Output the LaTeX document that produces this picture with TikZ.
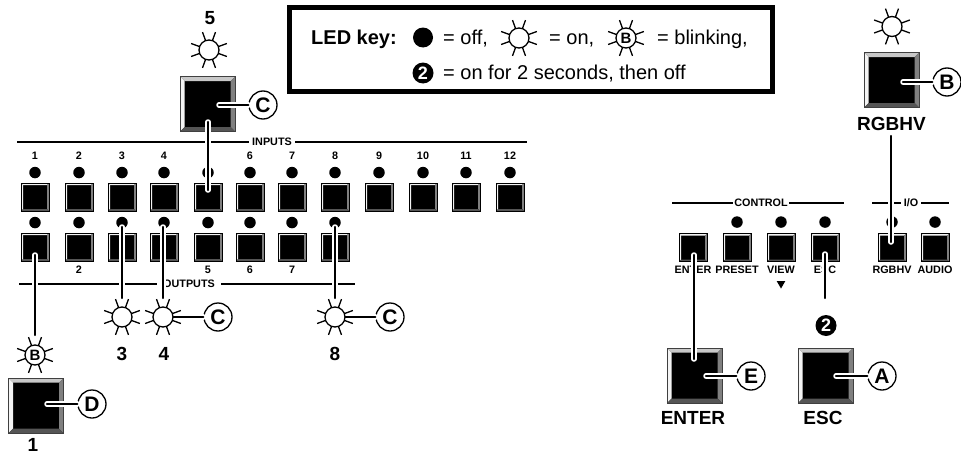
\documentclass[tikz,border=0pt]{standalone}
\usepackage{fontspec}
\setmainfont{Liberation Sans}
\usetikzlibrary{positioning,shapes.geometric}
\definecolor{bevlight}{HTML}{F4F4F4}
\definecolor{bevtop}{HTML}{C8C8C8}
\definecolor{bevright}{HTML}{808080}
\definecolor{bevbottom}{HTML}{555555}
\newcommand{\fsmall}{\fontsize{10.8}{12}\selectfont\bfseries}
\newcommand{\fbig}{\fontsize{19}{20}\selectfont\bfseries}
\newcommand{\fkey}{\fontsize{20}{22}\selectfont}
\newcommand{\bevelfaces}[2]{%
\fill[bevlight] (path picture bounding box.north west)--(path picture bounding box.south west)--([shift={(#1pt,#1pt)}]path picture bounding box.south west)--([shift={(#1pt,-#1pt)}]path picture bounding box.north west)--cycle;
\fill[#2] (path picture bounding box.north west)--(path picture bounding box.north east)--([shift={(-#1pt,-#1pt)}]path picture bounding box.north east)--([shift={(#1pt,-#1pt)}]path picture bounding box.north west)--cycle;
\fill[bevright] (path picture bounding box.north east)--(path picture bounding box.south east)--([shift={(-#1pt,#1pt)}]path picture bounding box.south east)--([shift={(-#1pt,-#1pt)}]path picture bounding box.north east)--cycle;
\fill[bevbottom] (path picture bounding box.south west)--(path picture bounding box.south east)--([shift={(-#1pt,#1pt)}]path picture bounding box.south east)--([shift={(#1pt,#1pt)}]path picture bounding box.south west)--cycle;}
\newcommand{\sunrays}[1]{\foreach \a in {20,70,110,160,200,250,290,340} \draw[line width=1.3pt] (#1.center)+(\a:10)--+(\a:19);}

\begin{document}
\begin{tikzpicture}[x=1pt,y=-1pt,
btn/.style={draw=black,line width=1pt,fill=black,minimum size=28pt,inner sep=0pt,path picture={\bevelfaces{2}{bevlight}}},
bigbtn/.style={draw=black!75,line width=.8pt,fill=black,minimum size=55pt,inner sep=0pt,path picture={\bevelfaces{4.5}{bevtop}}},
led/.style={circle,fill=black,minimum size=11.5pt,inner sep=0pt},
sun/.style={circle,draw,line width=1.3pt,fill=white,minimum size=20pt,inner sep=0pt},
blink/.style={sun,font=\fontsize{15}{15}\selectfont\bfseries},
lab/.style={inner sep=0pt,font=\fsmall},
biglab/.style={inner sep=0pt,font=\fbig},
hdr/.style={fill=white,inner sep=0pt,inner xsep=3pt,minimum height=8pt,font=\fsmall},
rule/.style={line width=1.6pt},
badge/.style={circle,fill=black,text=white,minimum size=21pt,inner sep=0pt,font=\fontsize{18}{18}\selectfont\bfseries},
lett/.style={circle,draw,line width=1.3pt,fill=white,minimum size=28pt,inner sep=0pt,font=\fontsize{21}{21}\selectfont\bfseries},
lead/.style={line width=2.2pt,line cap=round,preaction={draw,white,line width=5.5pt,line cap=round}},
key/.style={inner sep=0pt,anchor=base west,font=\fkey}]
\useasboundingbox (0,0) rectangle (961,455);
% section rules
\coordinate (inL) at (17,142);\coordinate (inR) at (527,142);
\coordinate (outL) at (19,284);\coordinate (outR) at (355,284);
\coordinate (ctlL) at (672,203);\coordinate (ctlR) at (844,203);
\coordinate (ioL) at (872,203);\coordinate (ioR) at (949,203);
\node[hdr] (inputs) at (272,142) {INPUTS};
\node[hdr,inner xsep=6pt] (outputs) at (189,284) {OUTPUTS};
\node[hdr,inner xsep=1pt] (control) at (761,203) {CONTROL};
\node[hdr] (io) at (911,203) {I/O};
\draw[rule] (inL)--(inputs)--(inR);
\draw[rule] (outL)--(outputs)--(outR);
\draw[rule] (ctlL)--(control)--(ctlR);
\draw[rule] (ioL)--(io)--(ioR);
% input buttons
\foreach \i/\x in {1/35,2/79,3/122,4/164,5/208,6/250,7/292,8/335,9/379,10/423,11/466,12/510}{
\node[btn] (in\i) at (\x,197) {};
\node[led,above=4pt of in\i] (inled\i) {};
}
\foreach \i in {1,2,3,4,6,7,8,9,10,11,12}
\node[lab,above=6.5pt of inled\i] (innum\i) {\i};
% output buttons
\foreach \i/\x in {1/35,2/79,3/122,4/164,5/208,6/250,7/292,8/335}{
\node[btn] (out\i) at (\x,247) {};
\node[led,above=4pt of out\i] (outled\i) {};
}
\foreach \i in {2,5,6,7}
\node[lab,below=4pt of out\i] (outnum\i) {\i};
% control and i/o buttons
\foreach \n/\x/\t in {enter/693/ENTER,preset/737/PRESET,view/781/VIEW,esc/825/ESC,rgb/892/RGBHV,audio/935/AUDIO}{
\node[btn] (\n) at (\x,247.5) {};
\node[lab,below=4pt of \n] (\n lab) {\t};
}
\foreach \n in {preset,view,esc,rgb,audio}
\node[led,above=5pt of \n] (\n led) {};
\node[regular polygon,regular polygon sides=3,shape border rotate=180,fill=black,minimum size=10pt,inner sep=0pt,below=7pt of viewlab] (viewtri) {};
% big buttons
\node[bigbtn] (big5) at (207.5,104) {};
\node[bigbtn] (big1) at (36,405.5) {};
\node[bigbtn] (bigrgb) at (891.5,80) {};
\node[bigbtn] (bigenter) at (694.5,375.5) {};
\node[bigbtn] (bigesc) at (825.5,375.5) {};
\node[biglab] (t5) at (210,18) {5};
\node[biglab] (t1) at (33,445) {1};
\node[biglab] (t3) at (122,354) {3};
\node[biglab] (t4) at (164,354) {4};
\node[biglab] (t8) at (335,354) {8};
\node[biglab,below=9pt of bigrgb] (trgb) {RGBHV};
\node[biglab] (tenter) at (693,418) {ENTER};
\node[biglab] (tesc) at (823,418) {ESC};
\node[badge] (two) at (826,325.5) {2};
% LEDs that are lit
\coordinate (s5) at (209,50);\coordinate (s3) at (122,317);\coordinate (s4) at (163,317);
\coordinate (s8) at (335,317);\coordinate (srgb) at (892,26.5);\coordinate (b1) at (35,355);
% letter tags
\coordinate (p5a) at (208,122);\coordinate (p5b) at (208,190);
\coordinate (p5c) at (219,105);\coordinate (p1a) at (35,255);\coordinate (p1b) at (35,335);
\coordinate (p1c) at (47,404);
\coordinate (p3a) at (122,227);\coordinate (p3b) at (122,298);
\coordinate (p4a) at (163,227);\coordinate (p4b) at (163,298);
\coordinate (p8a) at (335,227);\coordinate (p8b) at (335,298);
\coordinate (prgba) at (891,136);\coordinate (prgbb) at (891,242);\coordinate (prgbc) at (903,82);
\coordinate (pena) at (694,255);\coordinate (penb) at (694,359);\coordinate (penc) at (706,376);
\coordinate (pesa) at (825,254);\coordinate (pesb) at (825,298);\coordinate (pesc) at (836,376);
\node[lett] (c5) at (263,105) {C};
\node[lett] (d1) at (92,404) {D};
\node[lett] (c4) at (218,317) {C};
\node[lett] (c8) at (390,317) {C};
\node[lett] (brgb) at (947,82) {B};
\node[lett] (eent) at (751,376) {E};
\node[lett] (aesc) at (882,376) {A};
% leaders
\draw[lead] (p5a)--(p5b);
\draw[lead] (p5c)--(c5);
\draw[lead] (p1a)--(p1b);
\draw[lead] (p1c)--(d1);
\draw[lead] (p3a)--(p3b);
\draw[lead] (p4a)--(p4b);
\draw[lead] (p8a)--(p8b);
\draw[lead] (s4)--(c4);
\draw[lead] (s8)--(c8);
\draw[lead] (prgba)--(prgbb);
\draw[lead] (prgbc)--(brgb);
\draw[lead] (pena)--(penb);
\draw[lead] (penc)--(eent);
\draw[lead] (pesa)--(pesb);
\draw[lead] (pesc)--(aesc);
\foreach \n/\p in {sn5/s5,sn3/s3,sn4/s4,sn8/s8,snrgb/srgb}{
\node[sun] (\n) at (\p) {};
\sunrays{\n}
}
\node[blink] (bk1) at (b1) {B};
\sunrays{bk1}
% key
\node[draw,line width=5pt,minimum width=483pt,minimum height=84pt,inner sep=0pt] (keybox) at (531,49.5) {};
\node[key,font=\fkey\bfseries] (keyt) at (311,44) {LED key:};
\node[circle,fill=black,minimum size=20pt,inner sep=0pt] (koff) at (423,37.5) {};
\node[key] (koffl) at (443,44) {= off,};
\node[sun] (kon) at (519,38) {};
\sunrays{kon}
\node[key] (konl) at (549,44) {= on,};
\node[blink] (kbl) at (626,38) {B};
\sunrays{kbl}
\node[key] (kbll) at (657,44) {= blinking,};
\node[badge] (ktwo) at (423,73) {2};
\node[key] (ktwol) at (443,79.5) {= on for 2 seconds, then off};
\end{tikzpicture}
\end{document}
